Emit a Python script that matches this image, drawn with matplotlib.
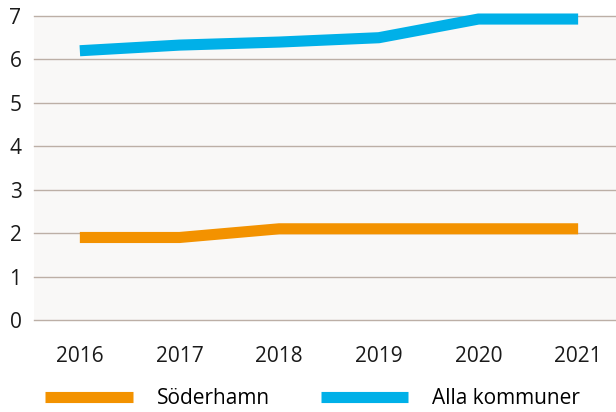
import matplotlib.pyplot as plt

plt.rcParams['font.family'] = ['Open Sans', 'DejaVu Sans']

years = ['2016', '2017', '2018', '2019', '2020', '2021']
soderhamn = [1.9, 1.9, 2.1, 2.1, 2.1, 2.1]
alla_kommuner = [6.2, 6.33, 6.4, 6.5, 6.93, 6.93]

orange = '#f39200'
blue = '#00b0e8'

fig = plt.figure(figsize=(6.16, 4.12), dpi=100)
ax = fig.add_axes([34 / 616, 92 / 412, 1 - 34 / 616, 304 / 412])
ax.set_facecolor('#f9f8f7')

x = list(range(len(years)))
ax.plot(x, soderhamn, color=orange, lw=8, solid_capstyle='butt', clip_on=False, label='Söderhamn')
ax.plot(x, alla_kommuner, color=blue, lw=8, solid_capstyle='butt', clip_on=False, label='Alla kommuner')

ax.set_xlim(-0.46, 5.38)
ax.set_ylim(0, 7)
ax.set_xticks(x)
ax.set_xticklabels(years)
ax.set_yticks(range(8))
ax.tick_params(length=0, labelsize=15, colors='#1a1a1a')
ax.tick_params(axis='x', pad=19)
ax.tick_params(axis='y', pad=9)
ax.grid(axis='y', color='#bcafa6', lw=1)
for gl in ax.get_ygridlines():
    gl.set_clip_on(False)
ax.set_axisbelow(True)
for s in ax.spines.values():
    s.set_visible(False)

fig.legend(loc='center left', bbox_to_anchor=(45 / 616, 13 / 412), ncol=2, frameon=False,
           fontsize=15, handlelength=4.2, handletextpad=1.15, columnspacing=2.45,
           borderaxespad=0, borderpad=0)

fig.savefig('out.png', dpi=100)
